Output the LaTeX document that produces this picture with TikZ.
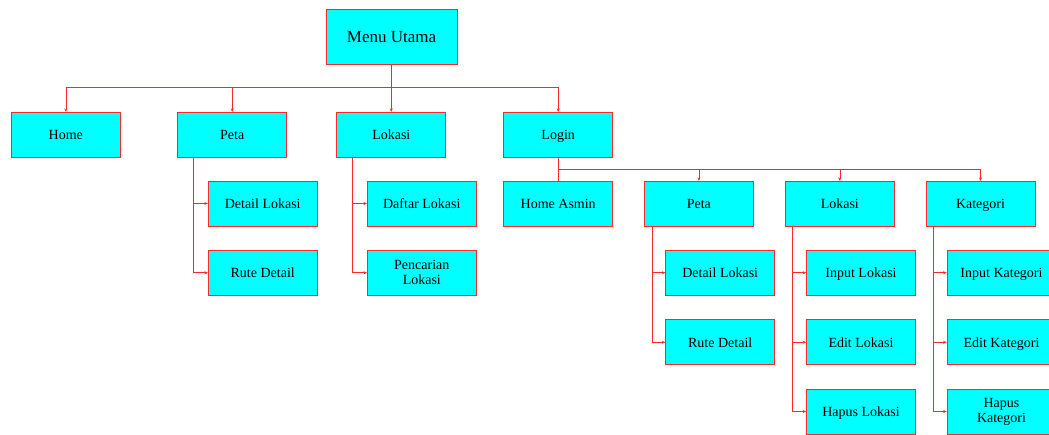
\documentclass[tikz,border=0pt]{standalone}
\usepackage{fontspec}
\setmainfont{Liberation Serif}
\usetikzlibrary{arrows.meta}
\definecolor{boxfill}{RGB}{0,255,255}
\definecolor{linkred}{RGB}{255,40,40}
\begin{document}
\begin{tikzpicture}[x=1pt,y=-1pt,
  menubox/.style={draw=linkred, line width=0.7pt, fill=boxfill, minimum width=109pt, minimum height=45pt,
    inner sep=1pt, align=center, font=\fontsize{14}{15}\selectfont, text height=9.4pt, text depth=0pt},
  twoline/.style={text height=, text depth=},
  topbox/.style={menubox, minimum width=131pt, minimum height=55pt, font=\fontsize{17}{19}\selectfont,
    text height=11.3pt},
  link/.style={draw=linkred, line width=0.5pt},
  arr/.style={link, -{Stealth[length=3.5pt,width=3pt]}}]
\useasboundingbox (0,0) rectangle (1049,434);
\fill[white] (0,0) rectangle (1049,434);

% root and first level
\node[topbox] (menu) at (391.5,36.5) {Menu Utama};
\node[menubox] (home) at (65.8,134.7) {Home};
\node[menubox] (peta) at (232.2,134.7) {Peta};
\node[menubox] (lokasi) at (391.3,134.7) {Lokasi};
\node[menubox] (login) at (558.2,134.7) {Login};

% children of Peta and Lokasi
\node[menubox] (pdetail) at (262.7,203.5) {Detail Lokasi};
\node[menubox] (prute) at (262.7,272.7) {Rute Detail};
\node[menubox] (ldaftar) at (421.8,203.5) {Daftar Lokasi};
\node[menubox, twoline] (lcari) at (421.8,272.7) {Pencarian\\Lokasi};

% admin section under Login
\node[menubox] (asmin) at (558.2,203.5) {Home Asmin};
\node[menubox] (peta2) at (698.9,203.7) {Peta};
\node[menubox] (lokasi2) at (839.8,203.7) {Lokasi};
\node[menubox] (kategori) at (980.5,203.7) {Kategori};

\node[menubox] (p2detail) at (720.2,272.7) {Detail Lokasi};
\node[menubox] (p2rute) at (720.2,342.3) {Rute Detail};
\node[menubox] (linput) at (861,272.7) {Input Lokasi};
\node[menubox] (ledit) at (861,342.3) {Edit Lokasi};
\node[menubox] (lhapus) at (861,411.5) {Hapus Lokasi};
\node[menubox] (kinput) at (1001.5,272.7) {Input Kategori};
\node[menubox] (kedit) at (1001.5,342.3) {Edit Kategori};
\node[menubox, twoline] (khapus) at (1001.5,411.5) {Hapus\\Kategori};

% root to first level
\coordinate (bus1) at (391.5,87.3);
\foreach \c in {home,peta,lokasi,login}
  \draw[arr] (menu.south) -- (bus1) -| (\c.north);

% Login to admin level
\coordinate (bus2) at (558.2,169.3);
\draw[link] (login.south) -- (bus2) -- (asmin.north);
\foreach \c in {peta2,lokasi2,kategori}
  \draw[arr] (bus2) -| (\c.north);

% side branches
\foreach \c in {pdetail,prute}
  \draw[arr] ([xshift=15.6pt]peta.south west) |- (\c.west);
\foreach \c in {ldaftar,lcari}
  \draw[arr] ([xshift=16pt]lokasi.south west) |- (\c.west);
\foreach \c in {p2detail,p2rute}
  \draw[arr] ([xshift=7.7pt]peta2.south west) |- (\c.west);
\foreach \c in {linput,ledit,lhapus}
  \draw[arr] ([xshift=7pt]lokasi2.south west) |- (\c.west);
\foreach \c in {kinput,kedit,khapus}
  \draw[arr] ([xshift=7.3pt]kategori.south west) |- (\c.west);
\end{tikzpicture}
\end{document}
